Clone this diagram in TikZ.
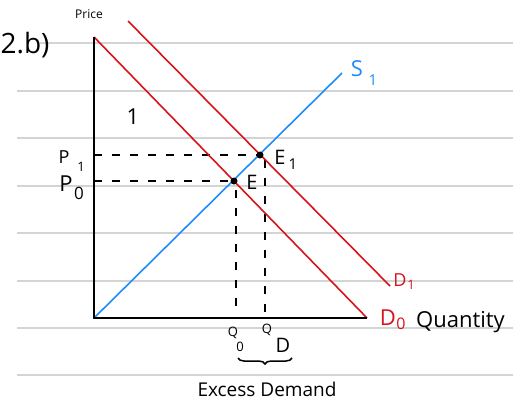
\documentclass[tikz,border=0pt]{standalone}
\usepackage{fontspec}
\setmainfont{Open Sans}
\usetikzlibrary{decorations.pathreplacing}
\definecolor{ruled}{RGB}{212,212,212}
\definecolor{dred}{RGB}{214,20,28}
\definecolor{sblue}{RGB}{30,140,250}
\begin{document}
\begin{tikzpicture}[x=1pt,y=-1pt,
  paper/.style={ruled,line width=1.4pt},
  axisline/.style={black,line width=2pt},
  demand/.style={dred,line width=1.6pt},
  supply/.style={sblue,line width=1.6pt},
  guide/.style={black,line width=1.6pt,dash pattern=on 8pt off 10pt},
  dotpt/.style={circle,fill=black,inner sep=0pt,minimum size=7pt},
  hand/.style={inner sep=0pt,font=\fontsize{18}{18}\selectfont},
  sub/.style={inner sep=0pt,font=\fontsize{13}{13}\selectfont}]
\useasboundingbox (0,0) rectangle (513,413);
% ruled paper
\draw[paper] (40,43) -- (513,43);
\foreach \yy in {91,138,186,233,281,328,375}{\draw[paper] (17,\yy) -- (513,\yy);}
% key points
\coordinate (O) at (94,318);
\coordinate (Ytop) at (94,37);
\coordinate (Xend) at (367,318);
\coordinate (D1a) at (128,21);
\coordinate (D1b) at (390,286);
\coordinate (S1b) at (342,73);
\coordinate (E) at (234,181);
\coordinate (E1) at (260,155);
\coordinate (P1) at (94,155);
\coordinate (P0) at (94,181);
\coordinate (Q0top) at (236,190);
\coordinate (Q0bot) at (236,312);
\coordinate (QDtop) at (265,160);
\coordinate (QDbot) at (265,312);
% guides
\draw[guide] (P1) -- (E1);
\draw[guide] (P0) -- (E);
\draw[guide] (Q0top) -- (Q0bot);
\draw[guide] (QDtop) -- (QDbot);
% curves
\draw[demand] (Ytop) -- (Xend);
\draw[demand] (D1a) -- (D1b);
\draw[supply] (O) -- (S1b);
% axes
\draw[axisline] (Ytop) -- (O) -- (Xend);
% points
\node[dotpt] (Ept) at (E) {};
\node[dotpt] (E1pt) at (E1) {};
% labels
\node[hand,font=\fontsize{28}{28}\selectfont] (lab2b) at (25,45) {2.b)};
\node[inner sep=0pt,font=\fontsize{12}{12}\selectfont] (lprice) at (89,14) {Price};
\node[hand,font=\fontsize{22}{22}\selectfont] (lone) at (133,117) {1};
\node[hand] (lP1) at (64,157) {P};
\node[sub] (lP1s) at (81,167) {1};
\node[hand,font=\fontsize{22}{22}\selectfont] (lP0) at (66,184) {P};
\node[sub,font=\fontsize{17}{17}\selectfont] (lP0s) at (79,193) {0};
\node[hand,font=\fontsize{20}{20}\selectfont] (lE) at (252,182) {E};
\node[hand,font=\fontsize{20}{20}\selectfont] (lE1) at (280,157) {E};
\node[sub,font=\fontsize{15}{15}\selectfont] (lE1s) at (293,164) {1};
\node[hand,sblue,font=\fontsize{22}{22}\selectfont] (lS) at (357,69) {S};
\node[sub,sblue,font=\fontsize{15}{15}\selectfont] (lSs) at (373,80) {1};
\node[hand,dred] (lD1) at (400,280) {D};
\node[sub,dred] (lD1s) at (411,285) {1};
\node[hand,dred,font=\fontsize{22}{22}\selectfont] (lD0) at (388,318) {D};
\node[sub,dred,font=\fontsize{16}{16}\selectfont] (lD0s) at (401,324) {0};
\node[hand,anchor=west,font=\fontsize{22}{22}\selectfont] (lq) at (416,322) {Quantity};
\node[sub] (lQ0) at (233,333) {Q};
\node[sub] (lQ0s) at (240,347) {0};
\node[sub] (lQD) at (267,330) {Q};
\node[hand,font=\fontsize{20}{20}\selectfont] (lQDs) at (283,345) {D};
\draw[black,line width=1.5pt,decorate,decoration={brace,mirror,amplitude=6pt}] (238,358) -- (292,358);
\node[hand,font=\fontsize{19}{19}\selectfont] (lexcess) at (267,389) {Excess Demand};
\end{tikzpicture}
\end{document}
